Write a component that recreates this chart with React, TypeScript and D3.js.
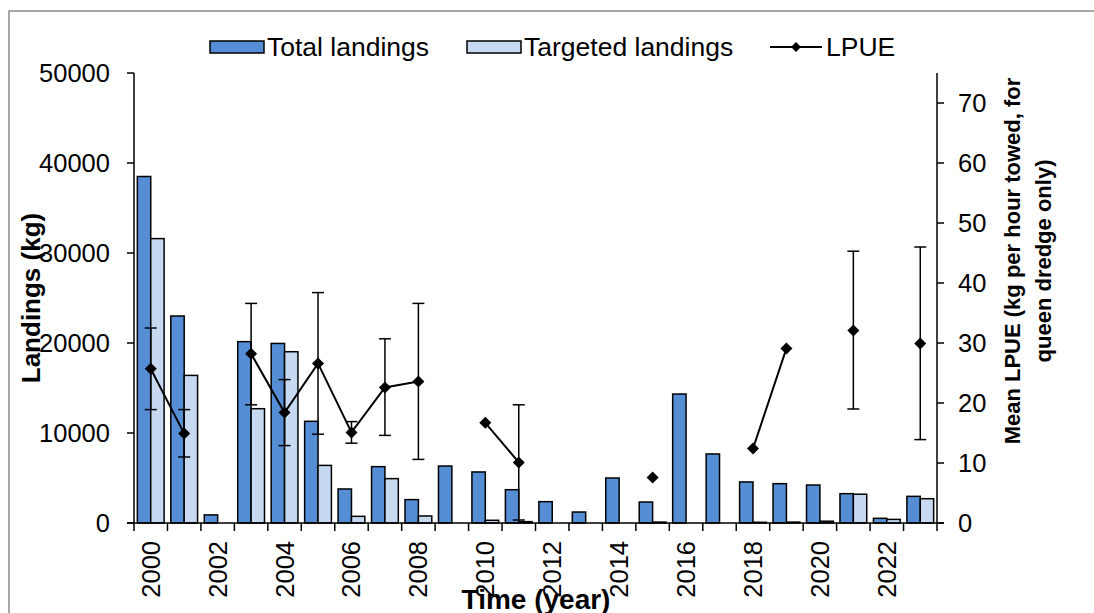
import React from "react";
import * as d3 from "d3";

const years = [2000, 2001, 2002, 2003, 2004, 2005, 2006, 2007, 2008, 2009, 2010, 2011, 2012, 2013, 2014, 2015, 2016, 2017, 2018, 2019, 2020, 2021, 2022, 2023];
const totalLandings = [38500, 23000, 900, 20150, 19950, 11300, 3780, 6260, 2600, 6330, 5670, 3700, 2370, 1220, 5000, 2330, 14330, 7670, 4560, 4370, 4220, 3260, 520, 2960];
const targetedLandings = [31600, 16400, 0, 12700, 19030, 6400, 740, 4930, 780, 0, 300, 150, 0, 0, 0, 100, 0, 0, 80, 100, 200, 3200, 400, 2700];
const lpue: (number | null)[] = [25.7, 14.9, null, 28.2, 18.4, 26.6, 15.1, 22.6, 23.6, null, 16.7, 10.1, null, null, null, 7.6, null, null, 12.4, 29.1, null, 32.1, null, 29.9];
const lpueUpper: (number | null)[] = [32.5, 18.9, null, 36.6, 23.9, 38.4, 16.9, 30.7, 36.6, null, null, 19.7, null, null, null, null, null, null, null, null, null, 45.3, null, 46.0];
const lpueLower: (number | null)[] = [18.9, 11.0, null, 19.7, 12.9, 14.8, 13.3, 14.6, 10.6, null, null, 0.5, null, null, null, null, null, null, null, null, null, 19.0, null, 13.9];
const leftTicks = [0, 10000, 20000, 30000, 40000, 50000];
const rightTicks = [0, 10, 20, 30, 40, 50, 60, 70];
const yearLabels = [2000, 2002, 2004, 2006, 2008, 2010, 2012, 2014, 2016, 2018, 2020, 2022];

const FONT = "Arial, 'Liberation Sans', sans-serif";
const TOTAL_C = "#558ED5";
const TARGET_C = "#C6D9F1";

export default function App() {
  const x0 = 134, x1 = 937, yTop = 73, yBot = 523;
  const x = d3.scaleBand<number>().domain(years).range([x0, x1]).padding(0);
  const yL = d3.scaleLinear().domain([0, 50000]).range([yBot, yTop]);
  const yR = d3.scaleLinear().domain([0, 75]).range([yBot, yTop]);
  const bw = x.bandwidth();
  const barW = bw / 2.5;
  const off = barW * 0.25;
  const cx = (y: number) => (x(y) as number) + bw / 2;

  const line = d3
    .line<number | null>()
    .defined((d) => d !== null)
    .x((_, i) => cx(years[i]))
    .y((d) => yR(d as number));

  const diamond = (px: number, py: number, r = 6) =>
    `M${px},${py - r}L${px + r},${py}L${px},${py + r}L${px - r},${py}Z`;

  const fs = 25.5;
  const lfs = 26.5;

  return (
    <svg width={1094} height={613} style={{ position: "absolute", left: 0, top: 0, fontFamily: FONT }}>
      <rect x={0} y={0} width={1094} height={613} fill="#fff" />
      <rect x={9} y={11} width={1100} height={620} fill="none" stroke="#8c8c8c" strokeWidth={1.5} />

      {/* Bars */}
      {years.map((yr, i) => (
        <g key={yr}>
          {totalLandings[i] > 0 && (
            <rect x={(x(yr) as number) + off} y={yL(totalLandings[i])} width={barW} height={yBot - yL(totalLandings[i])} fill={TOTAL_C} stroke="#000" strokeWidth={1.5} />
          )}
          {targetedLandings[i] > 0 && (
            <rect x={(x(yr) as number) + off + barW} y={yL(targetedLandings[i])} width={barW} height={yBot - yL(targetedLandings[i])} fill={TARGET_C} stroke="#000" strokeWidth={1.5} />
          )}
        </g>
      ))}

      {/* Axes */}
      <line x1={x0} x2={x0} y1={yTop} y2={yBot} stroke="#000" strokeWidth={1.5} />
      <line x1={x1} x2={x1} y1={yTop} y2={yBot} stroke="#000" strokeWidth={1.5} />
      <line x1={x0 - 7} x2={x1 + 7} y1={yBot} y2={yBot} stroke="#000" strokeWidth={1.5} />
      {leftTicks.map((t) => (
        <g key={"l" + t}>
          <line x1={x0 - 7} x2={x0} y1={yL(t)} y2={yL(t)} stroke="#000" strokeWidth={1.5} />
          <text x={110} y={yL(t)} textAnchor="end" dominantBaseline="central" fontSize={fs}>{t}</text>
        </g>
      ))}
      {rightTicks.map((t) => (
        <g key={"r" + t}>
          <line x1={x1} x2={x1 + 7} y1={yR(t)} y2={yR(t)} stroke="#000" strokeWidth={1.5} />
          <text x={958} y={yR(t)} textAnchor="start" dominantBaseline="central" fontSize={fs}>{t}</text>
        </g>
      ))}
      {[...years, 2024].map((yr, i) => {
        const px = x0 + i * bw;
        return <line key={"t" + yr} x1={px} x2={px} y1={yBot} y2={yBot + 8} stroke="#000" strokeWidth={1.5} />;
      })}
      {yearLabels.map((yr) => (
        <text key={"yl" + yr} transform={`translate(${cx(yr)},${541}) rotate(-90)`} textAnchor="end" dominantBaseline="central" fontSize={fs}>{yr}</text>
      ))}

      {/* Error bars */}
      {years.map((yr, i) =>
        lpueUpper[i] !== null && lpueLower[i] !== null ? (
          <g key={"e" + yr} stroke="#000" strokeWidth={1.5}>
            <line x1={cx(yr)} x2={cx(yr)} y1={yR(lpueUpper[i] as number)} y2={yR(lpueLower[i] as number)} />
            <line x1={cx(yr) - 6} x2={cx(yr) + 6} y1={yR(lpueUpper[i] as number)} y2={yR(lpueUpper[i] as number)} />
            <line x1={cx(yr) - 6} x2={cx(yr) + 6} y1={yR(lpueLower[i] as number)} y2={yR(lpueLower[i] as number)} />
          </g>
        ) : null
      )}

      {/* LPUE line */}
      <path d={line(lpue) || ""} fill="none" stroke="#000" strokeWidth={2} />
      {years.map((yr, i) =>
        lpue[i] !== null ? <path key={"m" + yr} d={diamond(cx(yr), yR(lpue[i] as number))} fill="#000" /> : null
      )}

      {/* Axis titles */}
      <text transform={`translate(31,298) rotate(-90)`} textAnchor="middle" dominantBaseline="central" fontSize={26} fontWeight="bold">Landings (kg)</text>
      <text transform={`translate(1012,261) rotate(-90)`} textAnchor="middle" dominantBaseline="central" fontSize={22} fontWeight="bold">Mean LPUE (kg per hour towed, for</text>
      <text transform={`translate(1043,261) rotate(-90)`} textAnchor="middle" dominantBaseline="central" fontSize={22} fontWeight="bold">queen dredge only)</text>
      <text x={536} y={609} textAnchor="middle" fontSize={28} fontWeight="bold">Time (year)</text>

      {/* Legend */}
      <rect x={210} y={41} width={54} height={12} fill={TOTAL_C} stroke="#000" strokeWidth={1.5} />
      <text x={267} y={47} dominantBaseline="central" fontSize={lfs}>Total landings</text>
      <rect x={467} y={41} width={54} height={12} fill={TARGET_C} stroke="#000" strokeWidth={1.5} />
      <text x={524} y={47} dominantBaseline="central" fontSize={lfs}>Targeted landings</text>
      <line x1={770} x2={822} y1={47} y2={47} stroke="#000" strokeWidth={2} />
      <path d={diamond(796, 47, 5)} fill="#000" />
      <text x={826} y={47} dominantBaseline="central" fontSize={lfs}>LPUE</text>
    </svg>
  );
}
